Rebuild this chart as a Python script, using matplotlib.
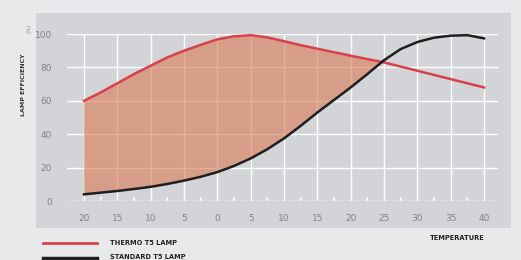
import numpy as np
import matplotlib.pyplot as plt
from matplotlib.lines import Line2D
from matplotlib.patches import Rectangle

temps = [-20, -17.5, -15, -12.5, -10, -7.5, -5, -2.5, 0, 2.5, 5, 7.5, 10,
         12.5, 15, 17.5, 20, 22.5, 25, 27.5, 30, 32.5, 35, 37.5, 40]
thermo = [60, 65, 70.5, 76, 81, 86, 90, 93.5, 96.8, 98.6, 99.3, 98, 95.7,
          93.3, 91.2, 89.1, 87, 85, 83, 80.5, 78, 75.5, 73, 70.5, 68]
standard = [4, 5, 6, 7.2, 8.5, 10.2, 12.2, 14.5, 17.3, 21, 25.5, 31, 37.5,
            45, 53, 60.5, 68, 76, 84.3, 91, 95.2, 97.8, 99, 99.3, 97.4]

xticks = [-20, -15, -10, -5, 0, 5, 10, 15, 20, 25, 30, 35, 40]
xtick_labels = ['20', '15', '10', '5', '0', '5', '10', '15', '20', '25', '30', '35', '40']
yticks = [0, 20, 40, 60, 80, 100]

t = np.array(temps)
th = np.array(thermo)
st = np.array(standard)

fig = plt.figure(figsize=(5.21, 2.60), dpi=100, facecolor='#e8e9eb')

# gray panel behind the plot
fig.patches.append(Rectangle((0.069, 0.123), 0.912, 0.827, transform=fig.transFigure,
                             facecolor='#d2d4d7', edgecolor='none', zorder=-1))

ax = fig.add_axes([0.1286, 0.2269, 0.8273, 0.6423])
ax.set_zorder(1)
ax.set_facecolor('none')
ax.set_xlim(-22.55, 42.1)
ax.set_ylim(0, 100)
for s in ax.spines.values():
    s.set_visible(False)

ax.set_xticks(xticks)
ax.set_xticklabels(xtick_labels)
ax.set_xticks(np.arange(-20, 42, 2.5), minor=True)
ax.set_yticks(yticks)
ax.tick_params(axis='x', which='major', length=0, pad=9, labelsize=6.5, labelcolor='#808285')
ax.tick_params(axis='x', which='minor', length=3, width=1.1, direction='in', color='white')
ax.tick_params(axis='y', length=0, pad=11, labelsize=6.5, labelcolor='#808285')
ax.grid(True, color='white', linewidth=1.0, zorder=1)
ax.set_axisbelow(True)

ax.fill_between(t, st, th, where=th >= st, interpolate=True,
                facecolor='#d9825f', alpha=0.65, edgecolor='none', zorder=2)
ax.plot(t, th, color='#d8404c', linewidth=1.8, zorder=3, clip_on=False)
ax.plot(t, st, color='#1e1e1e', linewidth=1.8, zorder=4, clip_on=False)

fig.text(0.046, 0.673, 'LAMP EFFICIENCY', rotation=90, ha='center', va='center',
         fontsize=4.5, fontweight='bold', color='#333333')
fig.text(0.056, 0.89, '(%)', rotation=90, ha='center', va='center',
         fontsize=4, color='#888888')

# legend below the chart
fig.add_artist(Line2D([0.083, 0.186], [0.0654, 0.0654], color='#d8404c', linewidth=2))
fig.add_artist(Line2D([0.083, 0.186], [0.008, 0.008], color='#1e1e1e', linewidth=2.5))
fig.text(0.211, 0.0654, 'THERMO T5 LAMP', ha='left', va='center',
         fontsize=4.8, fontweight='bold', color='#222222')
fig.text(0.211, 0.012, 'STANDARD T5 LAMP', ha='left', va='center',
         fontsize=4.8, fontweight='bold', color='#222222')
fig.text(0.931, 0.0846, 'TEMPERATURE', ha='right', va='center',
         fontsize=4.8, fontweight='bold', color='#222222')

fig.savefig('out.png', dpi=100, facecolor=fig.get_facecolor())
